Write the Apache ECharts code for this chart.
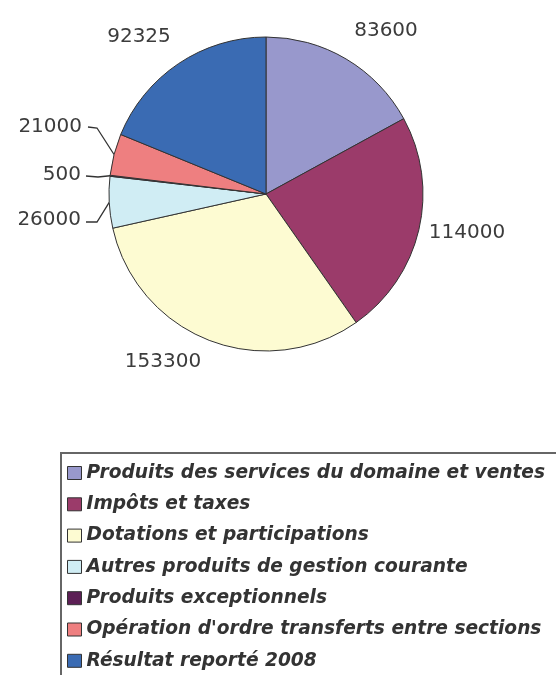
<!DOCTYPE html>
<html>
<head>
<meta charset="utf-8">
<script src="https://cdn.jsdelivr.net/npm/echarts@6/dist/echarts.min.js"></script>
<style>
  html, body { margin: 0; padding: 0; background: #fff; }
  #chart { width: 556px; height: 675px; }
</style>
</head>
<body>
<div id="chart"></div>
<script>
const categories = [
  "Produits des services du domaine et ventes",
  "Impôts et taxes",
  "Dotations et participations",
  "Autres produits de gestion courante",
  "Produits exceptionnels",
  "Opération d'ordre transferts entre sections",
  "Résultat reporté 2008",
];
const values = [83600, 114000, 153300, 26000, 500, 21000, 92325];
const colors = ["#9898cc", "#9b3b6a", "#fdfbd2", "#d0edf4", "#5c1f55", "#ee7f80", "#3a6bb3"];

// où poser chaque étiquette (et le coude du trait pour les petites parts)
const labelSpots = [
  { x: 386, y: 31, align: "center" },
  { x: 467, y: 233, align: "center" },
  { x: 163, y: 362, align: "center" },
  { x: 81, y: 220, align: "right", line: [[97, 222], [86, 222]] },
  { x: 81, y: 175, align: "right", line: [[98, 177], [86, 176]] },
  { x: 82, y: 127, align: "right", line: [[97, 128], [88, 127]] },
  { x: 139, y: 37, align: "center" },
];

const chart = echarts.init(document.getElementById("chart"));

const pieData = categories.map((name, i) => ({
  name,
  value: values[i],
  itemStyle: { color: colors[i] },
  labelLine: { show: values[i] < 30000 },
}));

chart.setOption({
  animation: false,
  backgroundColor: "#fff",
  legend: {
    orient: "vertical",
    left: 61,
    top: 453,
    height: 320,
    padding: [10, 12, 10, 6],
    itemGap: 11.3,
    itemWidth: 14,
    itemHeight: 13,
    icon: "rect",
    borderColor: "#666",
    borderWidth: 2,
    selectedMode: false,
    itemStyle: { borderColor: "#333", borderWidth: 1 },
    textStyle: {
      fontFamily: "DejaVu Sans",
      fontStyle: "italic",
      fontWeight: "bold",
      fontSize: 18.6,
      lineHeight: 20,
      color: "#333",
    },
    data: categories,
  },
  series: [
    {
      type: "pie",
      center: [266, 194],
      radius: 157,
      startAngle: 90,
      clockwise: true,
      avoidLabelOverlap: false,
      silent: true,
      itemStyle: { borderColor: "#333", borderWidth: 1 },
      label: {
        show: true,
        position: "outside",
        formatter: "{c}",
        fontFamily: "DejaVu Sans",
        fontSize: 20,
        color: "#3c3c3c",
      },
      labelLine: {
        length: 10,
        length2: 10,
        lineStyle: { color: "#333", width: 1.3 },
      },
      labelLayout(params) {
        const s = labelSpots[params.dataIndex];
        const out = { x: s.x, y: s.y, align: s.align, verticalAlign: "middle", hideOverlap: false, moveOverlap: null };
        if (s.line && params.labelLinePoints) {
          out.labelLinePoints = [params.labelLinePoints[0], s.line[0], s.line[1]];
        }
        return out;
      },
      data: pieData,
    },
  ],
});
</script>
</body>
</html>
